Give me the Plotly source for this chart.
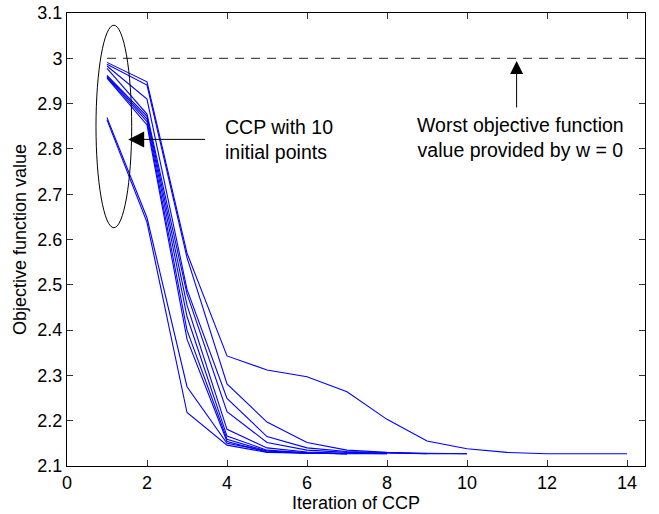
import plotly.graph_objects as go

# Objective value per CCP iteration, one run per initial point
run_values = [
    [2.991, 2.948, 2.570, 2.343, 2.312, 2.297, 2.264, 2.203, 2.155, 2.138, 2.130, 2.127, 2.127, 2.127],
    [2.987, 2.941, 2.560, 2.281, 2.197, 2.152, 2.135, 2.130, 2.128, 2.127],
    [2.983, 2.910, 2.490, 2.249, 2.165, 2.140, 2.132, 2.129, 2.127],
    [2.978, 2.877, 2.480, 2.220, 2.152, 2.135, 2.130, 2.128, 2.127, 2.127],
    [2.962, 2.872, 2.455, 2.181, 2.140, 2.131, 2.128, 2.127],
    [2.960, 2.866, 2.430, 2.166, 2.135, 2.129, 2.127, 2.127],
    [2.958, 2.860, 2.400, 2.159, 2.133, 2.128, 2.127],
    [2.956, 2.853, 2.380, 2.154, 2.131, 2.128, 2.127],
    [2.869, 2.648, 2.275, 2.150, 2.133, 2.129, 2.127],
    [2.864, 2.638, 2.218, 2.146, 2.130, 2.128, 2.127],
]

worst_value = 3.0  # objective with w = 0

x_ticks = [0, 2, 4, 6, 8, 10, 12, 14]
y_ticks = [2.1, 2.2, 2.3, 2.4, 2.5, 2.6, 2.7, 2.8, 2.9, 3.0, 3.1]
y_tick_text = ["2.1", "2.2", "2.3", "2.4", "2.5", "2.6", "2.7", "2.8", "2.9", "3", "3.1"]

FONT = "Liberation Sans, Arial, Helvetica, sans-serif"

fig = go.Figure()

for vals in run_values:
    fig.add_trace(go.Scatter(
        x=list(range(1, len(vals) + 1)),
        y=vals,
        mode="lines",
        line=dict(color="#0000ff", width=1.1),
        showlegend=False,
        hoverinfo="skip",
    ))

# dashed reference level
fig.add_trace(go.Scatter(
    x=[1, 14.45],
    y=[worst_value, worst_value],
    mode="lines",
    line=dict(color="#222222", width=1, dash="9px,7px"),
    showlegend=False,
    hoverinfo="skip",
))

# ellipse around the initial points
fig.add_shape(
    type="circle", xref="x", yref="y",
    x0=0.725, x1=1.617, y0=2.626, y1=3.073,
    line=dict(color="black", width=1),
)

# arrow pointing to the ellipse
fig.add_annotation(
    x=1.53, y=2.821, ax=3.49, ay=2.821,
    xref="x", yref="y", axref="x", ayref="y",
    text="", showarrow=True,
    arrowhead=2, arrowsize=3.2, arrowwidth=1, arrowcolor="black",
)
fig.add_annotation(
    x=3.9, y=2.821, xref="x", yref="y",
    text="CCP with 10<br>initial points",
    showarrow=False, xanchor="left", yanchor="middle", align="left",
    font=dict(family=FONT, size=19.5, color="black"),
)

# arrow pointing to the dashed level
fig.add_annotation(
    x=11.24, y=2.994, ax=11.24, ay=2.888,
    xref="x", yref="y", axref="x", ayref="y",
    text="", showarrow=True,
    arrowhead=2, arrowsize=2.6, arrowwidth=1, arrowcolor="black",
)
fig.add_annotation(
    x=11.34, y=2.826, xref="x", yref="y",
    text="Worst objective function<br>value provided by w = 0",
    showarrow=False, xanchor="center", yanchor="middle", align="center",
    font=dict(family=FONT, size=19.5, color="black"),
)

axis_common = dict(
    showline=True, linecolor="black", linewidth=1,
    mirror="ticks", ticks="inside", ticklen=6, tickcolor="#333333",
    showgrid=False, zeroline=False, automargin=False,
    tickfont=dict(family=FONT, size=18, color="black"),
)

fig.update_xaxes(
    range=[0, 14.45], tickvals=x_ticks,
    title=dict(text="Iteration of CCP", font=dict(family=FONT, size=18, color="black"), standoff=4),
    **axis_common,
)
fig.update_yaxes(
    range=[2.1, 3.1], tickvals=y_ticks, ticktext=y_tick_text,
    title=dict(text="Objective function value", font=dict(family=FONT, size=18, color="black"), standoff=6),
    **axis_common,
)

fig.update_layout(
    width=659, height=514,
    margin=dict(l=67, r=14, t=13, b=48),
    paper_bgcolor="white", plot_bgcolor="white",
    font=dict(family=FONT, color="black"),
)

fig.write_html("out.html")
